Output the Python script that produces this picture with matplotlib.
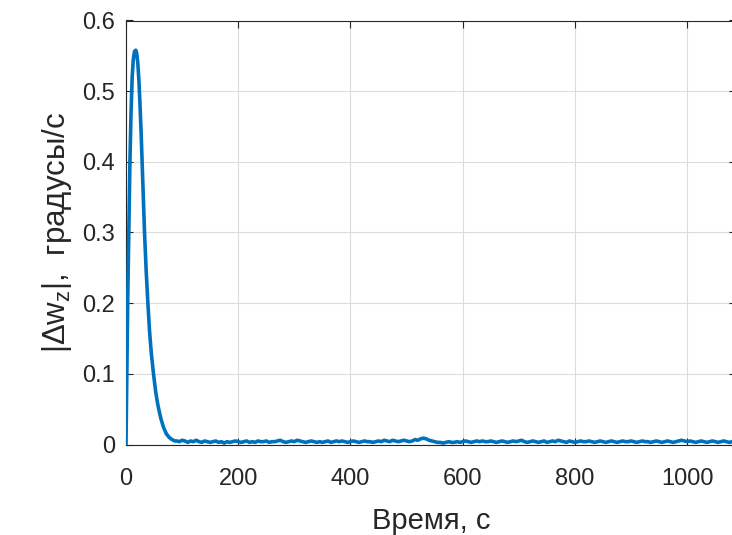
import numpy as np
import matplotlib
matplotlib.use("Agg")
import matplotlib.pyplot as plt

# === Data ===
# transient part (s, deg/s)
t_peak = [0, 1.5, 3, 5, 7, 9, 11, 13, 15, 17.5, 19, 21, 23, 25, 27, 30, 33,
          36, 39, 42, 45, 49, 53, 57, 62, 67, 72, 77, 82, 87, 91]
w_peak = [0.0, 0.10, 0.20, 0.30, 0.40, 0.47, 0.52, 0.545, 0.556, 0.558,
          0.554, 0.54, 0.515, 0.48, 0.44, 0.37, 0.30, 0.245, 0.20, 0.16, 0.13,
          0.10, 0.074, 0.055, 0.037, 0.024, 0.015, 0.010, 0.007, 0.005, 0.005]

# residual noise after the transient, sampled every 5 s from 95 to 1200 s
t_noise = np.arange(95, 1205, 5)
w_noise = [
    .004, .006, .005, .003, .005, .004, .006, .004, .003, .005,
    .004, .003, .004, .005, .003, .004, .002, .004, .003, .004,
    .005, .004, .003, .004, .005, .003, .004, .003, .005, .004,
    .004, .005, .003, .004, .004, .005, .006, .004, .003, .004,
    .005, .004, .006, .005, .004, .003, .004, .005, .004, .003,
    .004, .003, .004, .005, .003, .004, .005, .004, .005, .004,
    .003, .004, .005, .004, .003, .004, .005, .004, .004, .003,
    .004, .005, .004, .006, .005, .004, .006, .005, .004, .005,
    .006, .005, .004, .005, .007, .006, .008, .009, .008, .006,
    .005, .004, .003, .003, .002, .003, .004, .003, .003, .004,
    .003, .004, .005, .004, .003, .004, .005, .004, .005, .004,
    .004, .005, .004, .003, .004, .005, .004, .003, .004, .005,
    .004, .005, .006, .004, .003, .004, .005, .004, .003, .004,
    .005, .003, .004, .005, .004, .006, .005, .004, .003, .005,
    .004, .003, .004, .005, .004, .004, .005, .004, .003, .004,
    .005, .004, .003, .004, .005, .004, .003, .004, .005, .004,
    .004, .005, .004, .003, .004, .005, .004, .004, .003, .004,
    .005, .004, .003, .004, .005, .004, .003, .004, .005, .006,
    .005, .004, .005, .004, .003, .004, .005, .004, .003, .004,
    .005, .004, .003, .004, .005, .004, .003, .004, .004, .005,
    .004, .003, .004, .005, .004, .003, .004, .005, .004, .003,
    .004, .005, .004, .003, .004, .005, .004, .003, .004, .005,
    .004, .004,
]

x_ticks = [0, 200, 400, 600, 800, 1000]
y_ticks = [0, 0.1, 0.2, 0.3, 0.4, 0.5, 0.6]

t = np.concatenate([t_peak, t_noise])
w = np.concatenate([w_peak, w_noise])

# === Plotting (MATLAB-like look) ===
plt.rcParams["font.family"] = ["Liberation Sans", "DejaVu Sans"]
plt.rcParams["mathtext.fontset"] = "custom"
plt.rcParams["mathtext.rm"] = "Liberation Sans"
plt.rcParams["mathtext.it"] = "Liberation Sans"

dark = "#262626"
fig = plt.figure(figsize=(7.32, 5.35), dpi=100)
# axes right edge sits just past the image border, as in the cropped original
ax = fig.add_axes([126 / 732, 90.5 / 535, 610 / 732, 424 / 535])

ax.plot(t, w, color="#0072BD", linewidth=2.6, zorder=3)

ax.set_xlim(0, 1087)
ax.set_ylim(0, 0.6)
ax.set_xticks(x_ticks)
ax.set_yticks(y_ticks)
ax.set_yticklabels(["0", "0.1", "0.2", "0.3", "0.4", "0.5", "0.6"])

ax.grid(True, color="#dcdcdc", linewidth=0.8)
ax.set_axisbelow(True)
for s in ax.spines.values():
    s.set_color(dark)
    s.set_linewidth(0.8)

ax.tick_params(direction="in", length=5, width=0.8, colors=dark,
               labelsize=17, top=True, right=True)
ax.tick_params(axis="x", pad=17)
ax.tick_params(axis="y", pad=8)

ax.set_xlabel("Время, с", fontsize=21, color=dark, labelpad=12)
ax.set_ylabel(r"|Δ$\mathregular{w_z}$|,  градусы/с", fontsize=22.5,
              color=dark, labelpad=6)

plt.savefig("out.png", dpi=100)
